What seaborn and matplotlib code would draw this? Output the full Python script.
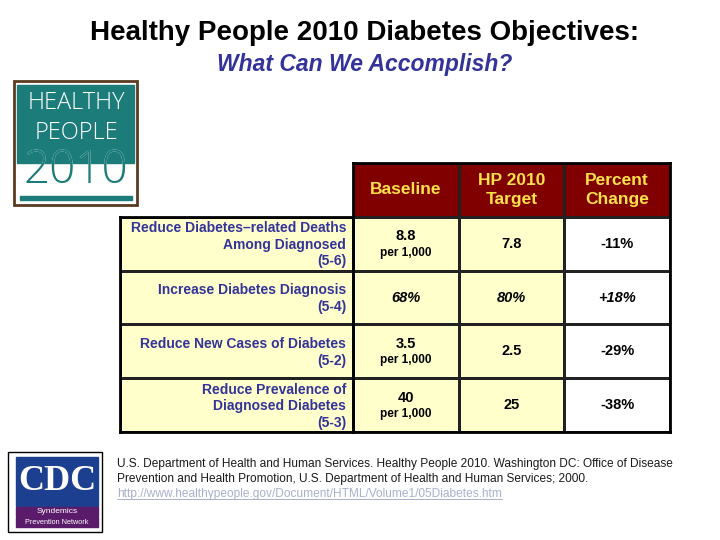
import numpy as np
import pandas as pd
import seaborn as sns
import matplotlib.pyplot as plt
from matplotlib.colors import ListedColormap
from matplotlib.patches import Rectangle

# table content
objectives = [
    "Reduce Diabetes\u2013related Deaths\nAmong Diagnosed\n(5-6)",
    "Increase Diabetes Diagnosis\n(5-4)",
    "Reduce New Cases of Diabetes\n(5-2)",
    "Reduce Prevalence of\nDiagnosed Diabetes\n(5-3)",
]
columns = ["Baseline", "HP 2010\nTarget", "Percent\nChange"]
baseline = ["8.8", "68%", "3.5", "40"]
baseline_unit = ["per 1,000", "", "per 1,000", "per 1,000"]
target = ["7.8", "80%", "2.5", "25"]
pct_change = ["-11%", "+18%", "-29%", "-38%"]

sources = [
    "U.S. Department of Health and Human Services. Healthy People 2010. Washington DC: Office of Disease",
    "Prevention and Health Promotion, U.S. Department of Health and Human Services; 2000.",
]
url = "http://www.healthypeople.gov/Document/HTML/Volume1/05Diabetes.htm"

sns.set_theme(style="white")
plt.rcParams["font.family"] = ["Liberation Sans", "DejaVu Sans"]

navy = "#333399"
dark_red = "#800000"
cream = "#FFFFCC"
gold = "#FFE24A"
teal = "#1B7C7A"

table = pd.DataFrame({"baseline": baseline, "target": target, "change": pct_change})

fig = plt.figure(figsize=(7.2, 5.4), dpi=100)

# full-figure layer in pixel units for titles, logos and the citation
deco = fig.add_axes([0, 0, 1, 1])
deco.set_xlim(0, 720)
deco.set_ylim(540, 0)
deco.axis("off")

deco.text(364, 33, "Healthy People 2010 Diabetes Objectives:", ha="center", va="center",
          fontsize=20, weight="bold", color="black")
deco.text(365, 65, "What Can We Accomplish?", ha="center", va="center",
          fontsize=16.5, weight="bold", style="italic", color=navy)

# Healthy People 2010 logo
deco.add_patch(Rectangle((14, 81), 123, 124, facecolor="white", edgecolor="#5B3B1F", lw=2))
top = Rectangle((17, 85), 117, 78, color=teal)
deco.add_patch(top)
low = Rectangle((17, 163), 117, 40, transform=deco.transData)
deco.add_patch(Rectangle((20, 196), 112, 4, color=teal))
for word, yy in [("HEALTHY", 103), ("PEOPLE", 133)]:
    deco.text(76, yy, word, ha="center", va="center", color="white", fontsize=17,
              family="Open Sans", weight=300)
for colour, clip in [("white", top), (teal, low)]:
    t = deco.text(76, 171, "2010", ha="center", va="center", color=colour, fontsize=33,
                  family="Open Sans", weight=300)
    t.set_clip_path(clip)

# CDC logo
deco.add_patch(Rectangle((8, 452), 94, 80, facecolor="white", edgecolor="black", lw=1))
deco.add_patch(Rectangle((16, 457), 82, 49, color="#1D3F8F"))
deco.text(57, 482, "CDC", ha="center", va="center", color="white", fontsize=26,
          family="Liberation Serif", weight="bold")
deco.add_patch(Rectangle((16, 507), 82, 9, color="#5B1B6B"))
deco.add_patch(Rectangle((16, 517), 82, 10, color="#5B1B6B"))
deco.text(57, 511.5, "Syndemics", ha="center", va="center", color="white", fontsize=6)
deco.text(57, 522, "Prevention Network", ha="center", va="center", color="white", fontsize=5.2)

# citation
for k, line in enumerate(sources):
    deco.text(117, 464 + 15 * k, line, ha="left", va="center", fontsize=8.6, color="#1A1A1A")
link = deco.text(117, 494, url, ha="left", va="center", fontsize=8.6, color="#A9B0CC")
fig.canvas.draw()
bb = link.get_window_extent().transformed(deco.transData.inverted())
yb = max(bb.y0, bb.y1) - 1
deco.plot([bb.x0, bb.x1], [yb, yb], color="#A9B0CC", lw=0.7)

# main table: header row + one row per objective
shade = np.vstack([[2, 2, 2], np.tile([0, 0, 1], (len(table), 1))])
ax = fig.add_axes([353 / 720, 1 - 432 / 540, 317 / 720, 269 / 540])
sns.heatmap(shade, ax=ax, cmap=ListedColormap([cream, "white", dark_red]), vmin=-0.5, vmax=2.5,
            cbar=False, linewidths=1, linecolor="#222222", xticklabels=False, yticklabels=False)
for s in ax.spines.values():
    s.set_visible(True)
    s.set_linewidth(2)
    s.set_color("black")

for j, col in enumerate(columns):
    ax.text(j + 0.5, 0.5, col, ha="center", va="center", color=gold, fontsize=12.5,
            weight="bold", linespacing=1.3)

for i, row in table.iterrows():
    y = i + 1.5
    style = "italic" if row["baseline"].endswith("%") else "normal"
    kw = dict(ha="center", va="center", color="black", fontsize=10.5, weight="bold", style=style)
    if baseline_unit[i]:
        ax.text(0.5, y - 0.14, row["baseline"], **kw)
        ax.text(0.5, y + 0.17, baseline_unit[i], ha="center", va="center", color="black",
                fontsize=8.5, weight="bold")
    else:
        ax.text(0.5, y, row["baseline"], **kw)
    ax.text(1.5, y, row["target"], **kw)
    ax.text(2.5, y, row["change"], **kw)

# objective labels, one text per line so the spacing is fixed
lax = fig.add_axes([120 / 720, 1 - 432 / 540, 233 / 720, 4 * 269 / 5 / 540])
sns.heatmap(np.zeros((len(objectives), 1)), ax=lax, cmap=ListedColormap([cream]), cbar=False,
            linewidths=1, linecolor="#222222", xticklabels=False, yticklabels=False)
for s in lax.spines.values():
    s.set_visible(True)
    s.set_linewidth(2)
    s.set_color("black")
step = 16.5 / (269 / 5)
for i, obj in enumerate(objectives):
    parts = obj.split("\n")
    for k, part in enumerate(parts):
        lax.text(0.97, i + 0.52 + (k - (len(parts) - 1) / 2) * step, part, ha="right",
                 va="center", color=navy, fontsize=10, weight="bold")

fig.savefig("out.png", dpi=100)
